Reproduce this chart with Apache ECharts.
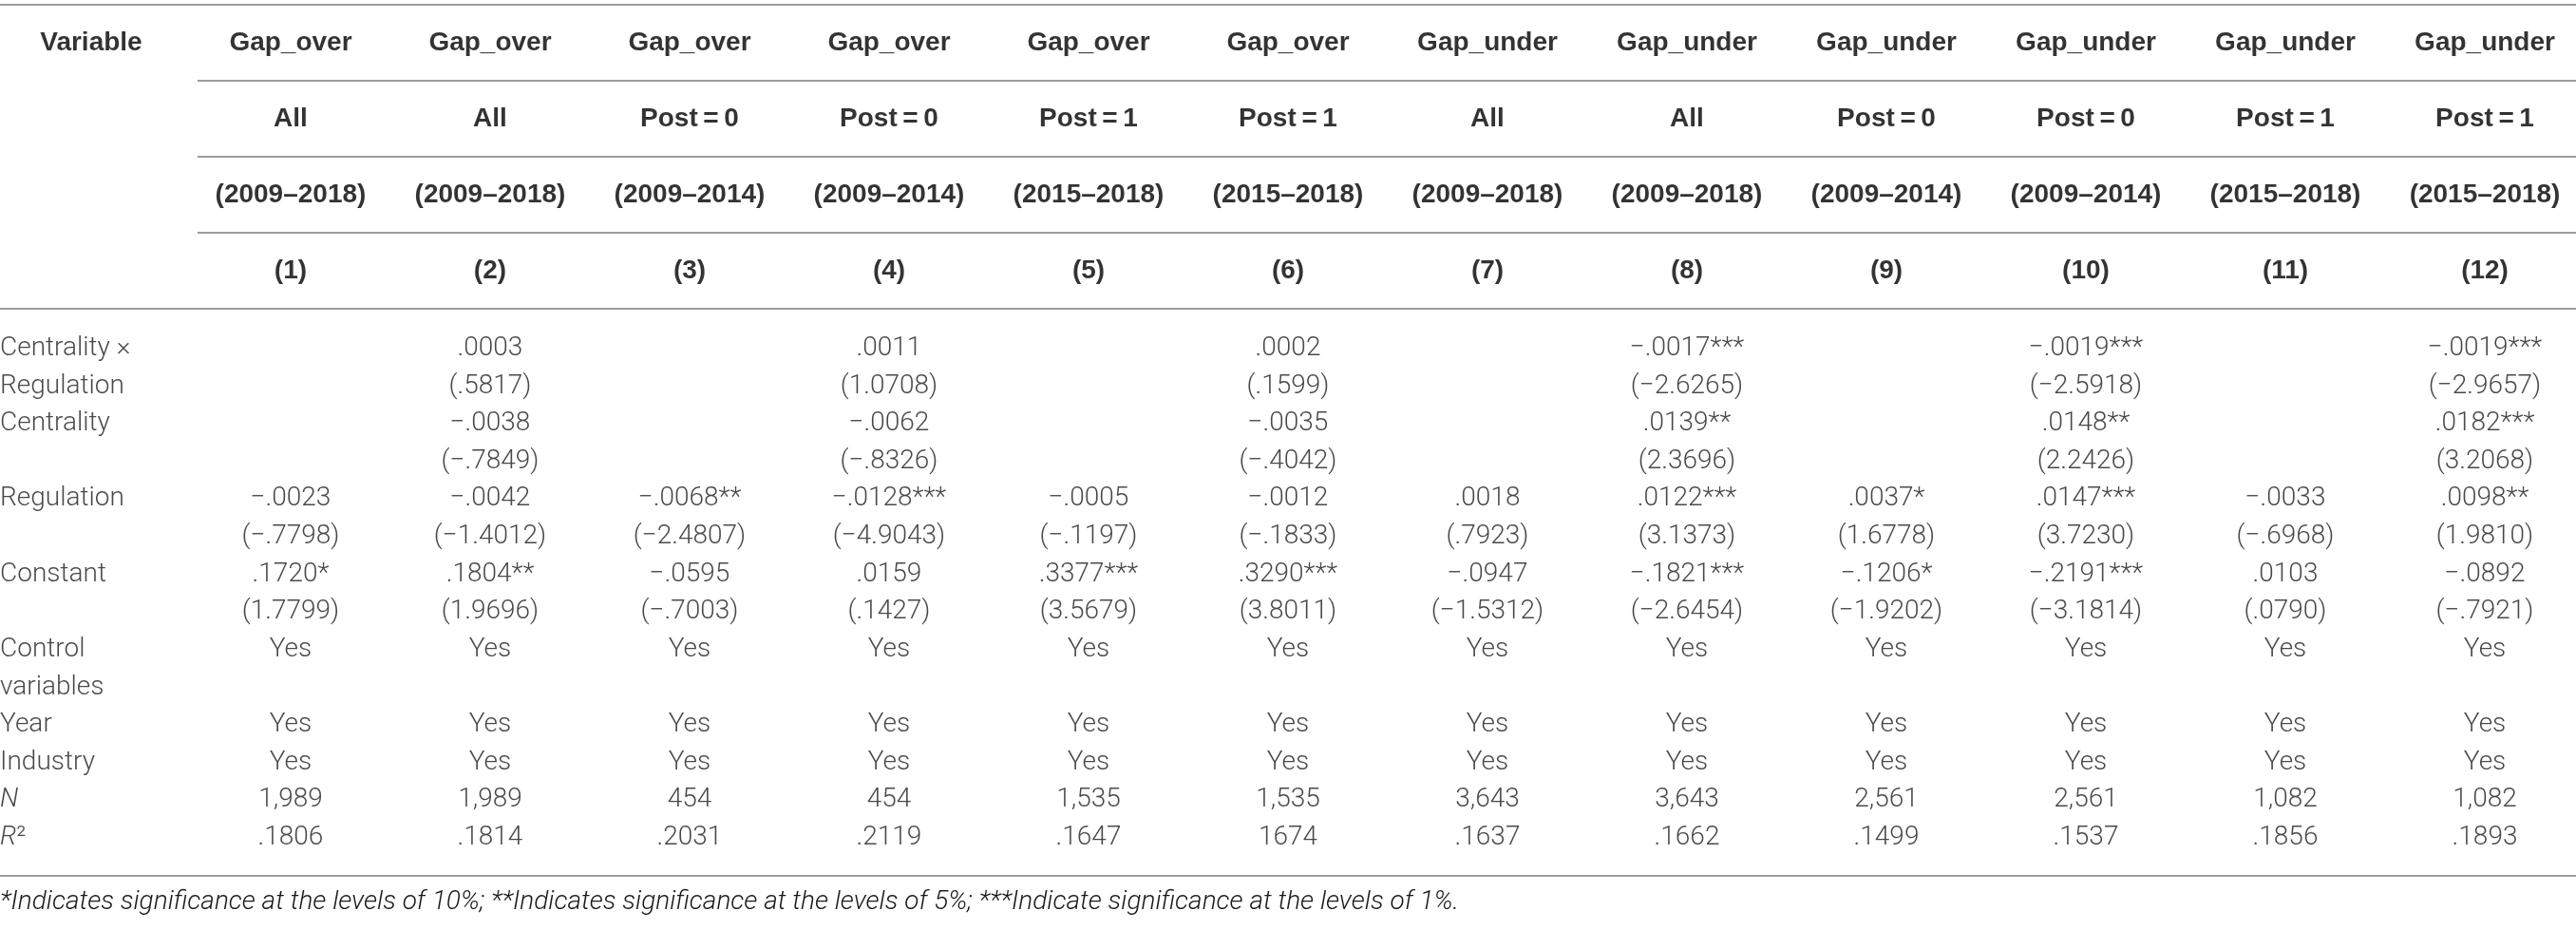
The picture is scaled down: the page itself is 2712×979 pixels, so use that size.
<!DOCTYPE html>
<html lang="en">
<head>
    <meta charset="UTF-8">
    <title>Regression results: Gap_over / Gap_under</title>
    <script src="https://cdn.jsdelivr.net/npm/echarts@6/dist/echarts.min.js"></script>
    <style>
        html, body {
            margin: 0;
            padding: 0;
            background: #ffffff;
            overflow: hidden;
        }
        #chart {
            width: 100vw;
            height: 100vh;
        }
    </style>
</head>
<body>
    <div id="chart"></div>
    <script>
        // ---- table content ----
        const headerDep = ['Gap_over', 'Gap_over', 'Gap_over', 'Gap_over', 'Gap_over', 'Gap_over',
                           'Gap_under', 'Gap_under', 'Gap_under', 'Gap_under', 'Gap_under', 'Gap_under'];
        const headerSample = ['All', 'All', 'Post\u2009=\u20090', 'Post\u2009=\u20090', 'Post\u2009=\u20091', 'Post\u2009=\u20091',
                              'All', 'All', 'Post\u2009=\u20090', 'Post\u2009=\u20090', 'Post\u2009=\u20091', 'Post\u2009=\u20091'];
        const headerPeriod = ['(2009–2018)', '(2009–2018)', '(2009–2014)', '(2009–2014)', '(2015–2018)', '(2015–2018)',
                              '(2009–2018)', '(2009–2018)', '(2009–2014)', '(2009–2014)', '(2015–2018)', '(2015–2018)'];
        const headerNum = ['(1)', '(2)', '(3)', '(4)', '(5)', '(6)', '(7)', '(8)', '(9)', '(10)', '(11)', '(12)'];

        const rowLabels = ['Centrality ×', 'Regulation', 'Centrality', '', 'Regulation', '', 'Constant', '',
                           'Control', 'variables', 'Year', 'Industry', '{i|N}', '{i|R}²'];

        const centRegCoef = ['', '.0003', '', '.0011', '', '.0002', '', '−.0017***', '', '−.0019***', '', '−.0019***'];
        const centRegT    = ['', '(.5817)', '', '(1.0708)', '', '(.1599)', '', '(−2.6265)', '', '(−2.5918)', '', '(−2.9657)'];
        const centCoef    = ['', '−.0038', '', '−.0062', '', '−.0035', '', '.0139**', '', '.0148**', '', '.0182***'];
        const centT       = ['', '(−.7849)', '', '(−.8326)', '', '(−.4042)', '', '(2.3696)', '', '(2.2426)', '', '(3.2068)'];
        const regCoef     = ['−.0023', '−.0042', '−.0068**', '−.0128***', '−.0005', '−.0012',
                             '.0018', '.0122***', '.0037*', '.0147***', '−.0033', '.0098**'];
        const regT        = ['(−.7798)', '(−1.4012)', '(−2.4807)', '(−4.9043)', '(−.1197)', '(−.1833)',
                             '(.7923)', '(3.1373)', '(1.6778)', '(3.7230)', '(−.6968)', '(1.9810)'];
        const constCoef   = ['.1720*', '.1804**', '−.0595', '.0159', '.3377***', '.3290***',
                             '−.0947', '−.1821***', '−.1206*', '−.2191***', '.0103', '−.0892'];
        const constT      = ['(1.7799)', '(1.9696)', '(−.7003)', '(.1427)', '(3.5679)', '(3.8011)',
                             '(−1.5312)', '(−2.6454)', '(−1.9202)', '(−3.1814)', '(.0790)', '(−.7921)'];
        const controls    = ['Yes', 'Yes', 'Yes', 'Yes', 'Yes', 'Yes', 'Yes', 'Yes', 'Yes', 'Yes', 'Yes', 'Yes'];
        const blankRow    = ['', '', '', '', '', '', '', '', '', '', '', ''];
        const yearFE      = ['Yes', 'Yes', 'Yes', 'Yes', 'Yes', 'Yes', 'Yes', 'Yes', 'Yes', 'Yes', 'Yes', 'Yes'];
        const industryFE  = ['Yes', 'Yes', 'Yes', 'Yes', 'Yes', 'Yes', 'Yes', 'Yes', 'Yes', 'Yes', 'Yes', 'Yes'];
        const obsN        = ['1,989', '1,989', '454', '454', '1,535', '1,535', '3,643', '3,643', '2,561', '2,561', '1,082', '1,082'];
        const rSquared    = ['.1806', '.1814', '.2031', '.2119', '.1647', '1674', '.1637', '.1662', '.1499', '.1537', '.1856', '.1893'];

        const footnote = '*Indicates significance at the levels of 10%; **Indicates significance at the levels of 5%; ***Indicate significance at the levels of 1%.';

        const headerRows = [['Variable'].concat(headerDep), [''].concat(headerSample),
                            [''].concat(headerPeriod), [''].concat(headerNum)];
        const bodyRows = [centRegCoef, centRegT, centCoef, centT, regCoef, regT, constCoef, constT,
                          controls, blankRow, yearFE, industryFE, obsN, rSquared];

        // ---- layout ----
        const xMin = -0.457, xMax = 12.457;   // column index axis, col 0 = label column
        const bodyMin = -1.06, bodyMax = 14.01;
        const lightFont = 'Roboto, "Liberation Sans", Arial, sans-serif';
        const boldFont = '"Liberation Sans", Arial, sans-serif';
        const ruleColor = '#9c9c9c';

        let headerCells = [];
        headerRows.forEach((row, r) => {
            row.forEach((txt, c) => { if (txt) headerCells.push([c, r + 0.5, txt]); });
        });
        let bodyCells = [];
        bodyRows.forEach((row, r) => {
            row.forEach((txt, c) => { if (txt) bodyCells.push([c + 1, r, txt]); });
        });
        let labelCells = [];
        rowLabels.forEach((txt, r) => { if (txt) labelCells.push([xMin, r, txt]); });

        function ruleSeries(xi, yi, rules) {
            return {
                type: 'custom',
                xAxisIndex: xi,
                yAxisIndex: yi,
                silent: true,
                clip: false,
                data: rules,
                renderItem: function (params, api) {
                    const p0 = api.coord([api.value(1), api.value(0)]);
                    const p1 = api.coord([api.value(2), api.value(0)]);
                    return {
                        type: 'line',
                        shape: { x1: p0[0], y1: p0[1], x2: p1[0], y2: p1[1] },
                        style: { stroke: ruleColor, lineWidth: 2 }
                    };
                }
            };
        }

        function textSeries(xi, yi, data, style) {
            return {
                type: 'scatter',
                xAxisIndex: xi,
                yAxisIndex: yi,
                silent: true,
                symbolSize: 1,
                itemStyle: { color: 'rgba(0,0,0,0)' },
                data: data,
                label: Object.assign({
                    show: true,
                    position: 'inside',
                    verticalAlign: 'middle',
                    formatter: p => p.value[2]
                }, style)
            };
        }

        const valueAxisX = (gi) => ({ type: 'value', gridIndex: gi, min: xMin, max: xMax, show: false });

        let option = {
            backgroundColor: '#ffffff',
            animation: false,
            title: {
                text: footnote,
                left: 0,
                top: 936,
                padding: 0,
                textStyle: {
                    fontFamily: lightFont,
                    fontWeight: 300,
                    fontStyle: 'italic',
                    fontSize: 28,
                    color: '#1a1a1a'
                }
            },
            grid: [
                { left: 0, right: 0, top: 5, height: 320 },
                { left: 0, right: 0, top: 325, height: 597 }
            ],
            xAxis: [valueAxisX(0), valueAxisX(1)],
            yAxis: [
                { type: 'value', gridIndex: 0, min: 0, max: 4, inverse: true, show: false },
                { type: 'value', gridIndex: 1, min: bodyMin, max: bodyMax, inverse: true, show: false }
            ],
            series: [
                ruleSeries(0, 0, [[0, xMin, xMax], [1, 0.533, xMax], [2, 0.533, xMax], [3, 0.533, xMax], [4, xMin, xMax]]),
                ruleSeries(1, 1, [[bodyMax, xMin, xMax]]),
                textSeries(0, 0, headerCells, {
                    align: 'center',
                    fontFamily: boldFont,
                    fontWeight: 'bold',
                    fontSize: 28,
                    color: '#000000'
                }),
                textSeries(1, 1, bodyCells, {
                    align: 'center',
                    fontFamily: lightFont,
                    fontWeight: 300,
                    fontSize: 28,
                    color: '#1a1a1a'
                }),
                textSeries(1, 1, labelCells, {
                    align: 'left',
                    fontFamily: lightFont,
                    fontWeight: 300,
                    fontSize: 28,
                    color: '#1a1a1a',
                    rich: {
                        i: { fontFamily: lightFont, fontWeight: 300, fontStyle: 'italic', fontSize: 28, color: '#1a1a1a' }
                    }
                })
            ]
        };

        let chart = echarts.init(document.getElementById('chart'));
        chart.setOption(option);

        window.addEventListener('resize', function () {
            chart.resize();
        });
    </script>
</body>
</html>
